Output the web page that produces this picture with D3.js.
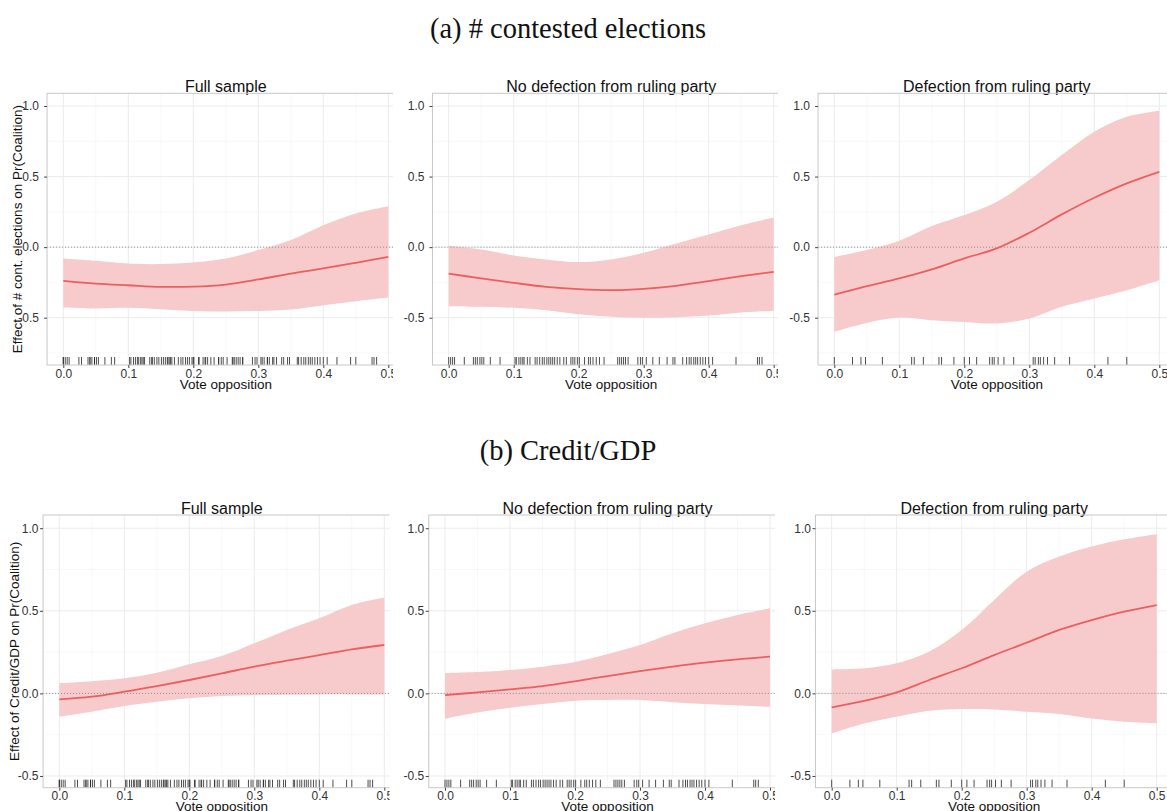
<!DOCTYPE html>
<html>
<head>
<meta charset="UTF-8">
<script src="https://d3js.org/d3.v7.min.js"></script>
<style>
  body { margin: 0; background: #fff; }
  svg text { font-family: "Liberation Sans", Arial, sans-serif; }
</style>
</head>
<body>
<div id="chart"></div>
<script>
var width = 1167, height = 811;

// x positions where the marginal effect was read
var xs = [0, 0.05, 0.1, 0.15, 0.2, 0.25, 0.3, 0.35, 0.4, 0.45, 0.5];

// (a) # contested elections
var contFullFit = [-0.239, -0.258, -0.27, -0.281, -0.28, -0.265, -0.229, -0.187, -0.151, -0.111, -0.069];
var contFullHi  = [-0.08, -0.097, -0.116, -0.12, -0.109, -0.08, -0.021, 0.05, 0.156, 0.239, 0.29];
var contFullLo  = [-0.428, -0.435, -0.43, -0.44, -0.452, -0.456, -0.452, -0.442, -0.411, -0.383, -0.357];

var contNoDefFit = [-0.187, -0.222, -0.253, -0.281, -0.298, -0.305, -0.296, -0.274, -0.241, -0.206, -0.175];
var contNoDefHi  = [0.01, -0.017, -0.059, -0.087, -0.106, -0.087, -0.04, 0.026, 0.09, 0.156, 0.21];
var contNoDefLo  = [-0.418, -0.423, -0.43, -0.447, -0.475, -0.494, -0.501, -0.496, -0.485, -0.463, -0.452];

var contDefFit = [-0.336, -0.277, -0.222, -0.158, -0.08, -0.009, 0.102, 0.232, 0.35, 0.452, 0.534];
var contDefHi  = [-0.069, -0.021, 0.045, 0.149, 0.227, 0.322, 0.475, 0.652, 0.818, 0.924, 0.967];
var contDefLo  = [-0.6, -0.537, -0.499, -0.518, -0.53, -0.541, -0.506, -0.423, -0.364, -0.305, -0.234];

// (b) Credit/GDP
var credFullFit = [-0.036, -0.02, 0.01, 0.044, 0.081, 0.121, 0.162, 0.198, 0.232, 0.267, 0.293];
var credFullHi  = [0.061, 0.073, 0.091, 0.125, 0.176, 0.226, 0.303, 0.384, 0.455, 0.535, 0.58];
var credFullLo  = [-0.141, -0.111, -0.077, -0.051, -0.03, -0.016, -0.012, -0.008, -0.006, -0.006, -0.006];

var credNoDefFit = [-0.01, 0.006, 0.024, 0.044, 0.073, 0.105, 0.135, 0.162, 0.186, 0.206, 0.222];
var credNoDefHi  = [0.123, 0.129, 0.141, 0.162, 0.19, 0.238, 0.293, 0.364, 0.424, 0.475, 0.515];
var credNoDefLo  = [-0.152, -0.115, -0.087, -0.065, -0.044, -0.04, -0.04, -0.053, -0.065, -0.073, -0.081];

var credDefFit = [-0.085, -0.046, 0.006, 0.081, 0.152, 0.232, 0.307, 0.384, 0.444, 0.495, 0.535];
var credDefHi  = [0.145, 0.152, 0.182, 0.253, 0.384, 0.566, 0.737, 0.828, 0.889, 0.933, 0.964];
var credDefLo  = [-0.242, -0.182, -0.141, -0.105, -0.095, -0.097, -0.111, -0.125, -0.152, -0.172, -0.182];

// rug: observed vote opposition values
var rugNoDef = [0, 0.003, 0.006, 0.009, 0.024, 0.038, 0.041, 0.044, 0.048, 0.051, 0.054, 0.064, 0.079,
  0.102, 0.104, 0.108, 0.111, 0.114, 0.116, 0.121, 0.125, 0.133, 0.136, 0.14, 0.144, 0.147, 0.151,
  0.154, 0.157, 0.16, 0.163, 0.167, 0.171, 0.177, 0.181, 0.188, 0.191, 0.194, 0.198, 0.201, 0.209,
  0.215, 0.218, 0.222, 0.227, 0.232, 0.239, 0.26, 0.263, 0.266, 0.269, 0.272, 0.276, 0.291, 0.295,
  0.298, 0.304, 0.314, 0.324, 0.336, 0.345, 0.348, 0.36, 0.366, 0.37, 0.373, 0.377, 0.38, 0.383,
  0.387, 0.391, 0.395, 0.4, 0.406, 0.442, 0.475, 0.478, 0.482];
var rugDef = [0, 0.028, 0.041, 0.048, 0.074, 0.119, 0.123, 0.137, 0.161, 0.165, 0.184, 0.2, 0.208,
  0.219, 0.239, 0.243, 0.246, 0.252, 0.261, 0.276, 0.306, 0.309, 0.314, 0.317, 0.322, 0.328, 0.339,
  0.362, 0.421, 0.45];
var rugFull = rugNoDef.concat(rugDef);

var xTicks = [0, 0.1, 0.2, 0.3, 0.4, 0.5];
var xMinor = [0.05, 0.15, 0.25, 0.35, 0.45];
var yTicks = [-0.5, 0, 0.5, 1.0];
var yMinor = [-0.75, -0.25, 0.25, 0.75];
var panelTitles = ["Full sample", "No defection from ruling party", "Defection from ruling party"];
var sectionTitles = ["(a) # contested elections", "(b) Credit/GDP"];
var yTitles = ["Effect of # cont. elections on Pr(Coalition)", "Effect of Credit/GDP on Pr(Coalition)"];

var rows = [
  { title: sectionTitles[0], titleY: 38, ylab: yTitles[0], yDomain: [-0.835, 1.09], yRange: [365, 93.3],
    x0: [63.3, 448.7, 834.3], clip: [393, 778, 1167], labX: 17, xtitleY: 389,
    yPad: 5, xPad: 1,
    panels: [[contFullFit, contFullLo, contFullHi, rugFull],
             [contNoDefFit, contNoDefLo, contNoDefHi, rugNoDef],
             [contDefFit, contDefLo, contDefHi, rugDef]] },
  { title: sectionTitles[1], titleY: 460, ylab: yTitles[1], yDomain: [-0.571, 1.08], yRange: [787.7, 515],
    x0: [59.3, 445, 831.7], clip: [389.5, 775, 1167], labX: 14, xtitleY: 811,
    yPad: 1.5, xPad: 0.5,
    panels: [[credFullFit, credFullLo, credFullHi, rugFull],
             [credNoDefFit, credNoDefLo, credNoDefHi, rugNoDef],
             [credDefFit, credDefLo, credDefHi, rugDef]] }
];

var fmt = d => d.toFixed(1);

var svg = d3.select("#chart").append("svg")
  .attr("width", width).attr("height", height);

var defs = svg.append("defs");

rows.forEach(function(row, ri) {
  svg.append("text")
    .attr("x", 568).attr("y", row.titleY)
    .attr("text-anchor", "middle")
    .style("font-family", "'Liberation Serif', 'Times New Roman', serif")
    .style("font-size", "28.5px")
    .attr("fill", "#111")
    .text(row.title);

  var y = d3.scaleLinear().domain(row.yDomain).range(row.yRange);
  var top = row.yRange[1], bottom = row.yRange[0];

  // y axis title
  svg.append("text")
    .attr("transform", "translate(" + row.labX + "," + ((top + bottom) / 2) + ") rotate(-90)")
    .attr("text-anchor", "middle")
    .attr("dy", "0.35em")
    .style("font-size", "13.5px")
    .attr("fill", "#111")
    .text(row.ylab);

  row.panels.forEach(function(p, pi) {
    var x0 = row.x0[pi];
    var x = d3.scaleLinear().domain([-0.025, 0.525]).range([x0 - 16.25, x0 + 341.25]);
    var left = x(-0.025), right = x(0.525);

    var clipId = "clip" + ri + pi;
    defs.append("clipPath").attr("id", clipId)
      .append("rect")
      .attr("x", left - 60).attr("y", top - 30)
      .attr("width", row.clip[pi] - (left - 60)).attr("height", bottom - top + 70);

    // panel title (not clipped)
    svg.append("text")
      .attr("x", (left + right) / 2).attr("y", top - 1.5)
      .attr("text-anchor", "middle")
      .style("font-size", "16px")
      .attr("fill", "#111")
      .text(panelTitles[pi]);

    var g = svg.append("g").attr("clip-path", "url(#" + clipId + ")");

    // grid
    g.selectAll(".yminor").data(yMinor).enter().append("line")
      .attr("x1", left).attr("x2", right)
      .attr("y1", d => y(d)).attr("y2", d => y(d))
      .attr("stroke", "#f4f4f4").attr("stroke-width", 0.6);
    g.selectAll(".xminor").data(xMinor).enter().append("line")
      .attr("y1", top).attr("y2", bottom)
      .attr("x1", d => x(d)).attr("x2", d => x(d))
      .attr("stroke", "#f4f4f4").attr("stroke-width", 0.6);
    g.selectAll(".ymajor").data(yTicks).enter().append("line")
      .attr("x1", left).attr("x2", right)
      .attr("y1", d => y(d)).attr("y2", d => y(d))
      .attr("stroke", "#ececec").attr("stroke-width", 1);
    g.selectAll(".xmajor").data(xTicks).enter().append("line")
      .attr("y1", top).attr("y2", bottom)
      .attr("x1", d => x(d)).attr("x2", d => x(d))
      .attr("stroke", "#ececec").attr("stroke-width", 1);

    var pts = xs.map(function(v, i) { return { x: v, fit: p[0][i], lo: p[1][i], hi: p[2][i] }; });

    var area = d3.area()
      .x(d => x(d.x)).y0(d => y(d.lo)).y1(d => y(d.hi))
      .curve(d3.curveCatmullRom.alpha(0.5));
    g.append("path").datum(pts).attr("d", area)
      .attr("fill", "#f7cacc");

    // zero reference
    g.append("line")
      .attr("x1", left).attr("x2", right)
      .attr("y1", y(0)).attr("y2", y(0))
      .attr("stroke", "#777").attr("stroke-width", 0.8)
      .attr("stroke-dasharray", "1,2");

    var line = d3.line().x(d => x(d.x)).y(d => y(d.fit)).curve(d3.curveCatmullRom.alpha(0.5));
    g.append("path").datum(pts).attr("d", line)
      .attr("fill", "none").attr("stroke", "#ec5f5f").attr("stroke-width", 1.8);

    // rug
    g.selectAll(".rug").data(p[3]).enter().append("line")
      .attr("x1", d => x(d)).attr("x2", d => x(d))
      .attr("y1", bottom - 8).attr("y2", bottom)
      .attr("stroke", "#222").attr("stroke-width", 0.8);

    // frame
    g.append("rect")
      .attr("x", left).attr("y", top)
      .attr("width", right - left).attr("height", bottom - top)
      .attr("fill", "none").attr("stroke", "#c8c8c8").attr("stroke-width", 1);

    // axes
    var xa = g.append("g").attr("transform", "translate(0," + bottom + ")")
      .call(d3.axisBottom(x).tickValues(xTicks).tickFormat(fmt).tickSize(3).tickPadding(row.xPad));
    xa.select(".domain").remove();
    xa.selectAll("line").attr("stroke", "#444");
    xa.selectAll("text").style("font-size", "12px").attr("fill", "#333");

    var ya = g.append("g").attr("transform", "translate(" + left + ",0)")
      .call(d3.axisLeft(y).tickValues(yTicks).tickFormat(fmt).tickSize(3).tickPadding(row.yPad));
    ya.select(".domain").remove();
    ya.selectAll("line").attr("stroke", "#444");
    ya.selectAll("text").style("font-size", "12px").attr("fill", "#333");

    g.append("text")
      .attr("x", (left + right) / 2).attr("y", row.xtitleY)
      .attr("text-anchor", "middle")
      .style("font-size", "13.5px")
      .attr("fill", "#111")
      .text("Vote opposition");
  });
});
</script>
</body>
</html>
